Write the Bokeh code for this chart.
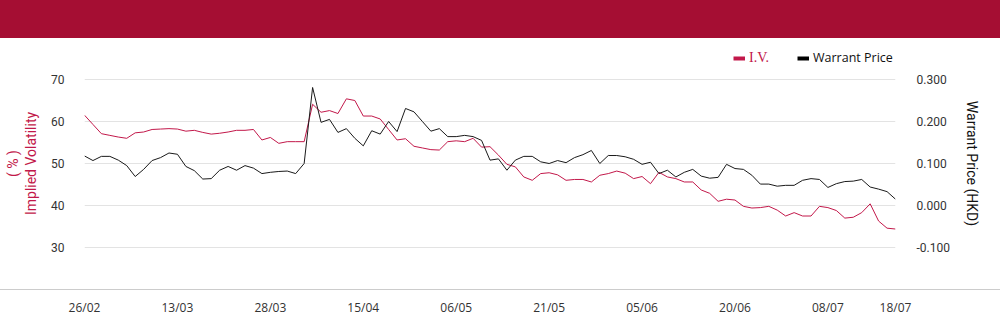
import numpy as np
from bokeh.plotting import figure
from bokeh.layouts import column
from bokeh.models import (Range1d, LinearAxis, FixedTicker, Div, InlineStyleSheet,
                          Legend, LegendItem, NumeralTickFormatter)
from bokeh.embed import file_html
from bokeh.resources import INLINE

# ---------------- data ----------------
tick_idx = [0, 11, 22, 33, 44, 55, 66, 77, 88, 96]
tick_labels = ["26/02", "13/03", "28/03", "15/04", "06/05", "21/05", "05/06", "20/06", "08/07", "18/07"]

iv = [61.5, 59.3, 57.1, 56.7, 56.3, 56.0, 57.3, 57.5, 58.1, 58.2,
      58.3, 58.2, 57.7, 57.9, 57.4, 57.0, 57.2, 57.5, 57.9, 57.9,
      58.1, 55.6, 56.2, 54.8, 55.2, 55.2, 55.2, 64.1, 62.2, 62.6,
      61.9, 65.4, 65.0, 61.3, 61.3, 60.6, 58.1, 55.6, 55.9, 54.1,
      53.7, 53.3, 53.2, 55.2, 55.4, 55.2, 56.0, 53.9, 54.0, 52.0,
      49.8, 49.2, 46.8, 46.0, 47.6, 47.8, 47.3, 46.0, 46.2, 46.2,
      45.6, 47.2, 47.6, 48.2, 47.7, 46.4, 46.9, 45.2, 47.9, 46.8,
      46.4, 45.6, 45.6, 43.7, 42.9, 41.0, 41.5, 41.3, 39.8, 39.4,
      39.5, 39.8, 38.9, 37.5, 38.3, 37.5, 37.5, 39.8, 39.5, 38.8,
      37.0, 37.2, 38.3, 40.4, 36.3, 34.6, 34.4]

price = [0.118, 0.107, 0.117, 0.117, 0.108, 0.095, 0.069, 0.086, 0.107, 0.114,
         0.125, 0.122, 0.093, 0.083, 0.063, 0.064, 0.084, 0.093, 0.084, 0.095,
         0.089, 0.076, 0.079, 0.081, 0.082, 0.076, 0.100, 0.281, 0.198, 0.205,
         0.174, 0.183, 0.160, 0.142, 0.178, 0.170, 0.200, 0.176, 0.231, 0.223,
         0.200, 0.177, 0.183, 0.164, 0.164, 0.167, 0.164, 0.155, 0.108, 0.111,
         0.084, 0.108, 0.117, 0.117, 0.104, 0.100, 0.107, 0.102, 0.114, 0.121,
         0.131, 0.100, 0.119, 0.119, 0.116, 0.110, 0.098, 0.103, 0.076, 0.084,
         0.068, 0.079, 0.086, 0.070, 0.065, 0.067, 0.098, 0.088, 0.086, 0.072,
         0.051, 0.051, 0.046, 0.048, 0.048, 0.060, 0.064, 0.062, 0.043, 0.052,
         0.057, 0.058, 0.062, 0.044, 0.039, 0.033, 0.015]

left_ticks = [30, 40, 50, 60, 70]
right_ticks = [-0.1, 0.0, 0.1, 0.2, 0.3]

RED = "#C2184A"
HEADER = "#A50E33"
x = list(range(len(iv)))

# frame is 250 px tall; the 30..70 band spans 168 px with 41 px of room above and below
pad = 41 / 168
left_range = Range1d(30 - 40 * pad, 70 + 40 * pad)
right_range = Range1d(-0.1 - 0.4 * pad, 0.3 + 0.4 * pad)

p = figure(width=1000, height=286, output_backend="svg", toolbar_location=None,
           x_range=Range1d(0, len(iv) - 1), y_range=left_range,
           min_border_left=84, min_border_right=105, min_border_top=0, min_border_bottom=36)
p.extra_y_ranges = {"price": right_range}
p.outline_line_color = None
p.background_fill_color = "white"
p.border_fill_color = "white"
p.margin = 0

p.xgrid.visible = False
p.ygrid.ticker = FixedTicker(ticks=left_ticks)
p.ygrid.grid_line_color = "#e3e3e3"
p.ygrid.grid_line_width = 1


def style_axis(ax, standoff):
    ax.axis_line_color = None
    ax.major_tick_line_color = None
    ax.minor_tick_line_color = None
    ax.major_tick_out = 0
    ax.major_tick_in = 0
    ax.minor_tick_out = 0
    ax.minor_tick_in = 0
    ax.major_label_standoff = standoff
    ax.major_label_text_font_size = "12px"
    ax.major_label_text_color = "#333333"
    ax.axis_label_text_font = "Roboto"
    ax.axis_label_text_font_size = "14px"
    ax.axis_label_text_font_style = "normal"


# left axis
ya = p.yaxis[0]
ya.ticker = FixedTicker(ticks=left_ticks)
style_axis(ya, 20)
ya.major_label_text_font = "Roboto"
ya.axis_label = "Implied Volatility"
ya.axis_label_text_color = RED
ya.axis_label_standoff = 9

# outer left axis carrying the unit line of the title
ya2 = LinearAxis(ticker=FixedTicker(ticks=[]))
style_axis(ya2, 0)
ya2.major_label_text_font_size = "0px"
ya2.axis_label = "( % )"
ya2.axis_label_text_color = RED
ya2.axis_label_standoff = 0
p.add_layout(ya2, "left")

# right axis
ra = LinearAxis(y_range_name="price", ticker=FixedTicker(ticks=right_ticks),
                formatter=NumeralTickFormatter(format="0.000"))
style_axis(ra, 21)
ra.major_label_text_font = "Roboto"
ra.axis_label = "Warrant Price (HKD)"
ra.axis_label_text_color = "#111111"
ra.axis_label_standoff = 11
p.add_layout(ra, "right")

# bottom axis
xa = p.xaxis[0]
xa.ticker = FixedTicker(ticks=tick_idx)
xa.major_label_overrides = {i: t for i, t in zip(tick_idx, tick_labels)}
style_axis(xa, 10)
xa.major_label_text_font = "Open Sans"

# lines
p.line(x, iv, line_color=RED, line_width=1)
p.line(x, price, line_color="#1a1a1a", line_width=1, y_range_name="price")

# legend keys: hidden thick copies, so the key shows as a short bar
k1 = p.line(x, iv, line_color=RED, line_width=4, visible=False)
k2 = p.line(x, price, line_color="#000000", line_width=4, y_range_name="price", visible=False)
common = dict(padding=0, margin=0, spacing=0, border_line_color=None, background_fill_alpha=0,
              glyph_width=12, glyph_height=14, label_height=14,
              inactive_fill_alpha=0, click_policy="none")
leg1 = Legend(items=[LegendItem(label="I.V.", renderers=[k1])], location=(649, 222),
              label_standoff=4, label_text_font="Liberation Serif", label_text_font_size="14px",
              label_text_color=RED, **common)
leg2 = Legend(items=[LegendItem(label="Warrant Price", renderers=[k2])], location=(713, 222),
              label_standoff=4, label_text_font="Open Sans", label_text_font_size="12.5px",
              label_text_color="#111111", **common)
p.add_layout(leg1)
p.add_layout(leg2)

# full-width rule under the plot area
p.stylesheets = [InlineStyleSheet(css=(
    ":host { position: relative; }"
    ":host::after { content: ''; position: absolute; left: 0; top: 251px; "
    "width: 1000px; height: 1px; background: #cccccc; pointer-events: none; }"))]

header = Div(text="", width=1000, height=38, margin=0,
             styles={"background-color": HEADER})

layout = column(header, p, spacing=0, width=1000, height=324)

open("out.html", "w").write(file_html(layout, INLINE))
